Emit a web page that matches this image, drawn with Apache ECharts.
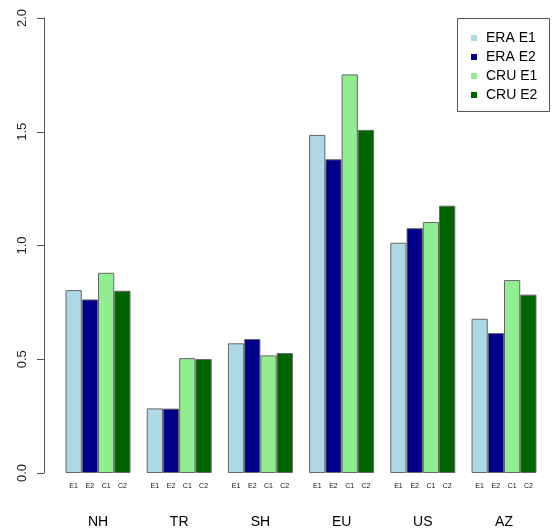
<!DOCTYPE html>
<html>
<head>
<meta charset="utf-8">
<script src="https://cdn.jsdelivr.net/npm/echarts@6/dist/echarts.min.js"></script>
<style>html,body{margin:0;padding:0;background:#fff;}#c{width:552px;height:530px;}</style>
</head>
<body>
<div id="c"></div>
<script>
const regions = ['NH', 'TR', 'SH', 'EU', 'US', 'AZ'];
const seriesNames = ['ERA E1', 'ERA E2', 'CRU E1', 'CRU E2'];
const barCodes = ['E1', 'E2', 'C1', 'C2'];
const eraE1 = [0.804, 0.284, 0.570, 1.486, 1.012, 0.678];
const eraE2 = [0.763, 0.283, 0.589, 1.379, 1.076, 0.615];
const cruE1 = [0.880, 0.505, 0.517, 1.752, 1.103, 0.848];
const cruE2 = [0.801, 0.501, 0.527, 1.508, 1.175, 0.784];
const yTicks = ['0.0', '0.5', '1.0', '1.5', '2.0'];
const colors = ['#ADD8E6', '#00008B', '#90EE90', '#006400'];

const allValues = [eraE1, eraE2, cruE1, cruE2];
const chart = echarts.init(document.getElementById('c'));
const font = 'Liberation Sans, Arial, Helvetica, sans-serif';

chart.setOption({
  animation: false,
  backgroundColor: '#fff',
  grid: { left: 57.4, right: 7.4, top: 18, bottom: 57 },
  xAxis: {
    type: 'category',
    data: regions,
    axisLine: { show: false },
    axisTick: { show: false },
    axisLabel: { margin: 42, fontSize: 14, color: '#000', fontFamily: font }
  },
  yAxis: {
    type: 'value',
    min: 0, max: 2, interval: 0.5,
    offset: 13.4,
    axisLine: { show: true, lineStyle: { color: '#555', width: 1 } },
    axisTick: { show: true, length: 7, lineStyle: { color: '#555' } },
    splitLine: { show: false },
    axisLabel: {
      rotate: 90, margin: 15, fontSize: 13, color: '#222', fontFamily: font,
      formatter: v => yTicks[Math.round(v / 0.5)]
    }
  },
  legend: {
    orient: 'vertical',
    left: 466, top: 26,
    icon: 'rect', itemWidth: 6, itemHeight: 6, itemGap: 5,
    itemStyle: { borderWidth: 0 },
    textStyle: { fontSize: 14, lineHeight: 14, color: '#000', fontFamily: font, padding: [0, 0, 0, 4] },
    data: seriesNames
  },
  graphic: [{
    type: 'rect', z: 100,
    shape: { x: 457.5, y: 18.5, width: 92, height: 93 },
    style: { fill: 'none', stroke: '#555', lineWidth: 1 }
  }],
  series: seriesNames.map((name, i) => ({
    name: name,
    type: 'bar',
    data: allValues[i],
    barGap: '0%',
    barCategoryGap: '20%',
    itemStyle: { color: colors[i], borderColor: '#666', borderWidth: 1 },
    label: {
      show: true, position: 'bottom', distance: 10,
      formatter: () => barCodes[i],
      fontSize: 7, color: '#111', fontFamily: font
    }
  }))
});
</script>
</body>
</html>
